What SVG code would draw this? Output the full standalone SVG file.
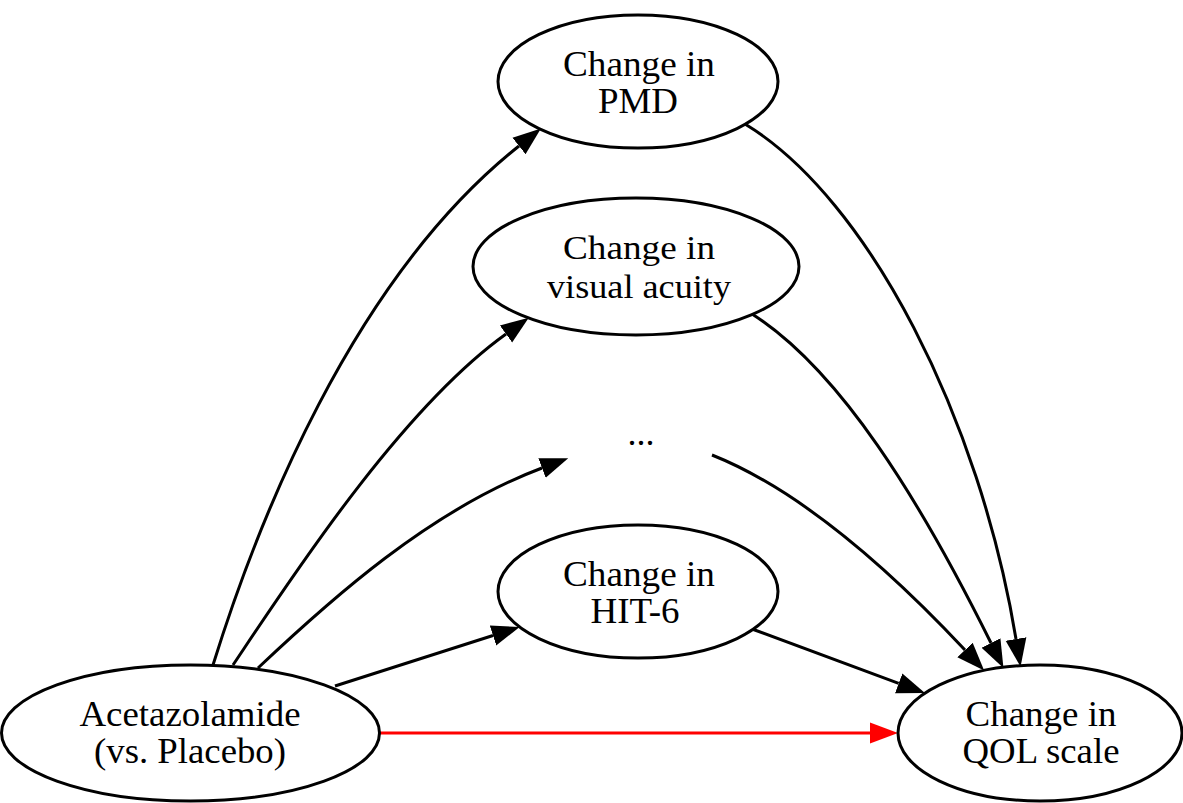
<svg xmlns="http://www.w3.org/2000/svg" width="1183" height="803" viewBox="0 0 1183 803">
<defs>
<style>
.node ellipse{fill:#fff;stroke:#000;stroke-width:3}
.node text,.lbl{font-family:"Liberation Serif","Times New Roman",serif;font-size:36px;fill:#000;text-anchor:middle}
.node text.sm{font-size:34px}
.edge{fill:none;stroke:#000;stroke-width:3}
.red{stroke:#f00}
</style>
<marker id="ah" markerUnits="userSpaceOnUse" markerWidth="30" markerHeight="24" refX="0" refY="11" orient="auto" viewBox="0 0 30 22">
<path d="M0,0.5 L28,11 L0,21.5 z" fill="#000"/>
</marker>
<marker id="ahr" markerUnits="userSpaceOnUse" markerWidth="30" markerHeight="24" refX="0" refY="11" orient="auto" viewBox="0 0 30 22">
<path d="M0,0.5 L28,11 L0,21.5 z" fill="#f00"/>
</marker>
</defs>
<rect width="1183" height="803" fill="#fff"/>
<g id="edges">
<path class="edge" marker-end="url(#ah)" d="M213,665 C255,530 350,280 519,146"/>
<path class="edge" marker-end="url(#ah)" d="M233,665 C290,580 400,410 506,334"/>
<path class="edge" marker-end="url(#ah)" d="M258,668 C330,600 430,510 542,468"/>
<path class="edge" marker-end="url(#ah)" d="M335,686 L493,635.5"/>
<path class="edge red" marker-end="url(#ahr)" d="M380,733 L870,733"/>
<path class="edge" marker-end="url(#ah)" d="M745,124 C870,200 980,420 1016,639"/>
<path class="edge" marker-end="url(#ah)" d="M752,314 C840,370 920,500 991,643"/>
<path class="edge" marker-end="url(#ah)" d="M712,455 C800,490 890,570 965,650"/>
<path class="edge" marker-end="url(#ah)" d="M752,629 L898.7,683.3"/>
</g>
<g id="node-pmd" class="node">
<ellipse cx="638" cy="81.5" rx="140" ry="66.5"/>
<text x="639" y="76" textLength="152" lengthAdjust="spacingAndGlyphs">Change in</text>
<text x="638" y="113" textLength="80" lengthAdjust="spacingAndGlyphs">PMD</text>
</g>
<g id="node-va" class="node">
<ellipse cx="636" cy="266.5" rx="163" ry="68.5"/>
<text class="sm" x="639" y="259" textLength="152" lengthAdjust="spacingAndGlyphs">Change in</text>
<text class="sm" x="639" y="298" textLength="184" lengthAdjust="spacingAndGlyphs">visual acuity</text>
</g>
<g id="node-dots" class="node">
<text x="641" y="445">...</text>
</g>
<g id="node-hit" class="node">
<ellipse cx="638" cy="591.5" rx="140" ry="66.5"/>
<text x="639" y="586" textLength="152" lengthAdjust="spacingAndGlyphs">Change in</text>
<text x="635" y="623" textLength="89" lengthAdjust="spacingAndGlyphs">HIT-6</text>
</g>
<g id="node-acet" class="node">
<ellipse cx="190.5" cy="733" rx="189" ry="68"/>
<text x="190" y="726" textLength="221" lengthAdjust="spacingAndGlyphs">Acetazolamide</text>
<text x="190" y="763" textLength="192" lengthAdjust="spacingAndGlyphs">(vs. Placebo)</text>
</g>
<g id="node-qol" class="node">
<ellipse cx="1040" cy="733" rx="142" ry="68"/>
<text x="1041" y="726" textLength="151" lengthAdjust="spacingAndGlyphs">Change in</text>
<text x="1041" y="763" textLength="157" lengthAdjust="spacingAndGlyphs">QOL scale</text>
</g>
</svg>
